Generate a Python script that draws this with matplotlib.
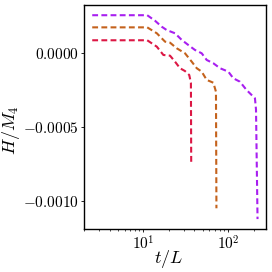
import numpy as np
import matplotlib
matplotlib.use("Agg")
import matplotlib.pyplot as plt

plt.rcParams['font.family'] = 'serif'
plt.rcParams['font.serif'] = ['cmr10']
plt.rcParams['mathtext.fontset'] = 'cm'
plt.rcParams['axes.formatter.use_mathtext'] = True
plt.rcParams['axes.unicode_minus'] = True

# Red series
t_red = [2.5, 11.1, 14.4, 17.2, 20.6, 23.6, 27.0, 30.9, 34.7, 36.3, 36.6]
h_red = [0.0000878, 0.0000878, 0.0000446, -0.0000115, -0.0000162, -0.0000568,
         -0.000101, -0.000120, -0.000147, -0.000200, -0.000755]

# Orange series
t_orange = [2.5, 11.1, 14.4, 18.0, 20.6, 24.7, 30.9, 37.1, 42.5, 48.6, 55.7, 66.7, 71.6, 72.5]
h_orange = [0.000175, 0.000175, 0.000135, 0.0000784, 0.0000716, 0.0000338, 0.0,
            -0.0000568, -0.000101, -0.000124, -0.000180, -0.000199, -0.000260, -0.001047]

# Purple series
t_purple = [2.5, 11.1, 13.7, 16.4, 18.8, 23.6, 28.3, 33.8, 40.5, 48.6, 55.7, 66.7,
            79.8, 100.0, 114.6, 137.0, 164.0, 197.0, 206.0, 212.0, 221.0]
h_purple = [0.000257, 0.000257, 0.000220, 0.000180, 0.000157, 0.000135, 0.000090,
            0.000056, 0.0000223, 0.0, -0.0000453, -0.0000676, -0.000101, -0.000124,
            -0.000169, -0.000192, -0.000248, -0.000293, -0.000304, -0.000380, -0.00112]

series = [(t_purple, h_purple, '#a81ff0'),
          (t_orange, h_orange, '#c4621c'),
          (t_red, h_red, '#dc1744')]

yticks = [0.0, -0.0005, -0.0010]
ytick_labels = [r'$0.0000$', r'$-0.0005$', r'$-0.0010$']

fig = plt.figure(figsize=(2.72, 2.72), dpi=100)
ax = fig.add_axes([84/272, 1 - 229/272, (266-84)/272, (229-5)/272])

for t, h, c in series:
    ax.plot(t, h, color=c, lw=1.5, ls=(0, (2.8, 1.6)))

ax.set_xscale('log')
ax.set_xlim(2.0, 278)
ax.set_ylim(-0.001187, 0.000326)
ax.set_yticks(yticks)
ax.set_yticklabels(ytick_labels)
ax.tick_params(axis='both', which='major', labelsize=11, length=2.5, width=0.6, pad=1.5)
ax.tick_params(axis='x', which='minor', length=1.5, width=0.5)
for s in ax.spines.values():
    s.set_linewidth(1.0)

ax.set_xlabel(r'$t/L$', fontsize=13)
ax.set_ylabel(r'$H/M_4$', fontsize=13)
ax.xaxis.set_label_coords(0.467, -0.135)
ax.yaxis.set_label_coords(-0.40, 0.44)
ax.xaxis.label.set_va('center')
ax.yaxis.label.set_va('center')

fig.savefig('out.png', dpi=100)
